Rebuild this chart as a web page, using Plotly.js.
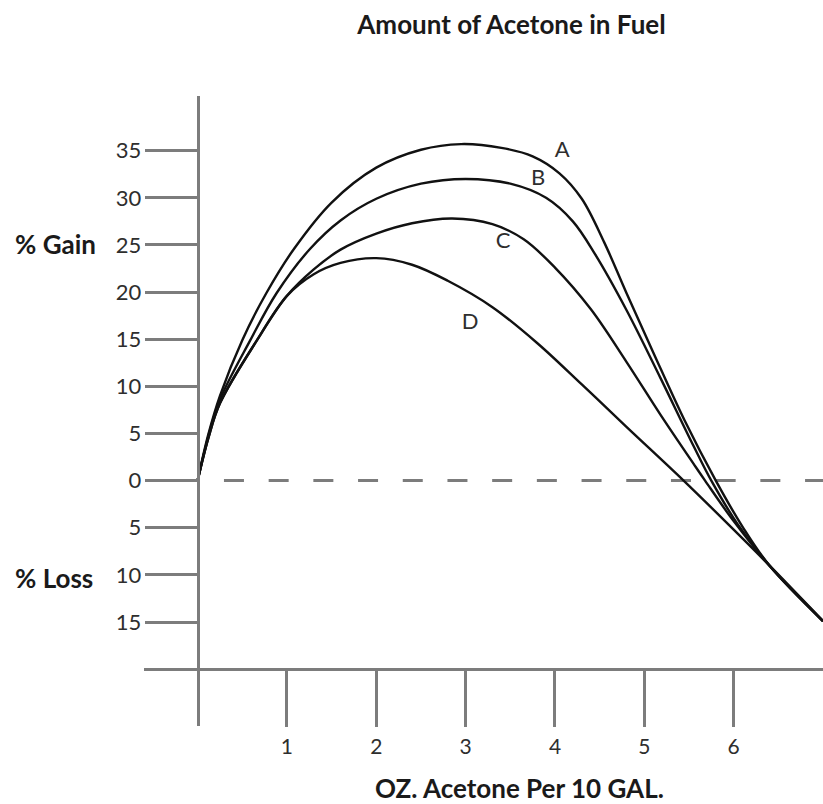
<!DOCTYPE html>
<html>
<head>
<meta charset="utf-8">
<script src="https://cdn.plot.ly/plotly-3.0.1.min.js"></script>
<style>html,body{margin:0;padding:0;background:#fff;}#chart{width:823px;height:804px;}</style>
</head>
<body>
<div id="chart"></div>
<script>
// Curve data (x = oz acetone per 10 gal, y = % gain (+) / loss (-))
const xA = [0, 0.12, 0.25, 0.5, 0.77, 1.08, 1.5, 2.0, 2.5, 2.95, 3.4, 3.75, 4.05, 4.3, 4.55, 4.8, 5.1, 5.45, 5.8, 6.1, 6.4, 7.0];
const yA = [0, 4.9, 9.0, 14.9, 19.9, 24.6, 29.5, 33.2, 35.1, 35.7, 35.3, 34.4, 32.6, 29.9, 25.3, 19.9, 13.6, 6.4, 0, -4.9, -9.0, -14.9];
const xB = [0, 0.12, 0.25, 0.59, 0.885, 1.26, 1.6, 2.0, 2.5, 3.0, 3.5, 3.9, 4.2, 4.45, 4.8, 5.18, 5.55, 5.75, 6.05, 6.4, 7.0];
const yB = [0, 4.7, 8.6, 14.9, 19.9, 24.6, 27.6, 29.9, 31.5, 32.0, 31.5, 30.0, 27.5, 24.0, 18.1, 10.9, 3.7, 0, -4.7, -9.0, -14.9];
const xC = [0, 0.12, 0.25, 0.665, 1.0, 1.3, 1.6, 2.0, 2.4, 2.85, 3.3, 3.65, 4.0, 4.4, 4.8, 5.18, 5.55, 5.68, 6.0, 6.4, 7.0];
const yC = [0, 4.5, 8.2, 14.9, 19.6, 22.4, 24.5, 26.2, 27.3, 27.8, 27.2, 25.6, 22.6, 18.2, 12.6, 7.0, 1.8, 0, -4.3, -9.0, -14.9];
const xD = [0, 0.12, 0.25, 0.665, 1.0, 1.3, 1.6, 2.0, 2.4, 2.8, 3.3, 3.8, 4.3, 4.8, 5.44, 6.0, 6.4, 7.0];
const yD = [0, 4.5, 8.2, 14.9, 19.6, 21.9, 23.1, 23.6, 22.9, 21.2, 18.4, 14.6, 10.2, 5.7, 0, -5.2, -9.0, -14.9];

const curveLabels = ['A', 'B', 'C', 'D'];
const labelX = [4.08, 3.81, 3.42, 3.05];
const labelY = [34.9, 31.9, 25.3, 16.7];

const yTickVals = [35, 30, 25, 20, 15, 10, 5, 0, -5, -10, -15];
const yTickText = ['35', '30', '25', '20', '15', '10', '5', '0', '5', '10', '15'];
const xTickVals = [1, 2, 3, 4, 5, 6];
const xTickText = ['1', '2', '3', '4', '5', '6'];

const AXIS = '#7c7c7c';
const TXT = '#2e2e2e';
const FONT = 'Lato, "Open Sans", sans-serif';

const xs = [xA, xB, xC, xD];
const ys = [yA, yB, yC, yD];
const traces = xs.map((x, i) => ({
  x: x, y: ys[i], type: 'scatter', mode: 'lines',
  line: {color: '#111', width: 2.4, shape: 'spline', smoothing: 1},
  hoverinfo: 'skip', showlegend: false
}));
traces.push({
  x: labelX, y: labelY, type: 'scatter', mode: 'text', text: curveLabels,
  textfont: {family: FONT, size: 22, color: TXT}, textposition: 'middle center',
  showlegend: false, hoverinfo: 'skip'
});

const layout = {
  width: 823, height: 804,
  margin: {l: 144, r: 0, t: 96, b: 78},
  paper_bgcolor: '#fff', plot_bgcolor: '#fff',
  showlegend: false,
  title: {text: '<b>Amount of Acetone in Fuel</b>', font: {family: FONT, size: 26, color: '#1a1a1a'},
          x: 0.6215, xanchor: 'center', xref: 'container', y: 0.969, yanchor: 'middle', yref: 'container'},
  xaxis: {
    range: [-0.6, 7.0], domain: [0, 1], anchor: 'free', position: 0.0902,
    showgrid: false, zeroline: false, showline: true, linecolor: AXIS, linewidth: 3,
    ticks: 'outside', ticklen: 56, tickwidth: 3, tickcolor: AXIS,
    tickvals: xTickVals, ticktext: xTickText, ticklabelstandoff: 2,
    tickfont: {family: FONT, size: 21, color: TXT}, fixedrange: true
  },
  yaxis: {
    range: [-26.03, 40.8], domain: [0, 1], anchor: 'free', position: 0.07895,
    showgrid: false, zeroline: false, showline: true, linecolor: AXIS, linewidth: 3,
    ticks: 'outside', ticklen: 52, tickwidth: 3, tickcolor: AXIS,
    tickvals: yTickVals, ticktext: yTickText, ticklabelstandoff: -1,
    tickfont: {family: FONT, size: 22, color: TXT}, fixedrange: true
  },
  shapes: [
    {type: 'line', xref: 'x', yref: 'y', x0: 0.295, x1: 7.0, y0: 0, y1: 0,
     line: {color: AXIS, width: 3, dash: '20px,24.7px'}, layer: 'below'}
  ],
  annotations: [
    {text: '<b>OZ. Acetone Per 10 GAL.</b>', xref: 'paper', yref: 'paper',
     x: (519 - 144) / 679, y: (726 - 788) / 630, xanchor: 'center', yanchor: 'middle',
     showarrow: false, font: {family: FONT, size: 26, color: '#1a1a1a'}},
    {text: '<b>% Gain</b>', xref: 'paper', yref: 'paper',
     x: (13 - 144) / 679, y: (726 - 244) / 630, xanchor: 'left', yanchor: 'middle',
     showarrow: false, font: {family: FONT, size: 26, color: '#1a1a1a'}},
    {text: '<b>% Loss</b>', xref: 'paper', yref: 'paper',
     x: (13 - 144) / 679, y: (726 - 578) / 630, xanchor: 'left', yanchor: 'middle',
     showarrow: false, font: {family: FONT, size: 26, color: '#1a1a1a'}}
  ]
};

Plotly.newPlot('chart', traces, layout, {staticPlot: true, displayModeBar: false});
</script>
</body>
</html>
